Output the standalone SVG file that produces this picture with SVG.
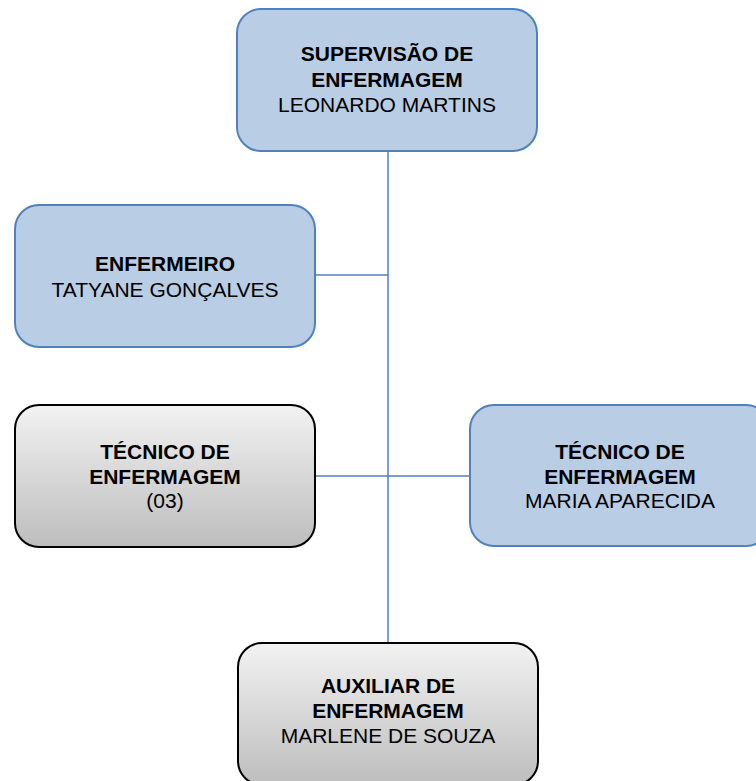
<svg xmlns="http://www.w3.org/2000/svg" width="756" height="781" viewBox="0 0 756 781">
  <defs>
    <linearGradient id="grayGrad" x1="0" y1="0" x2="0" y2="1">
      <stop offset="0" stop-color="#f2f2f2"/>
      <stop offset="1" stop-color="#bdbdbd"/>
    </linearGradient>
    <style>
      .blue { fill: #b9cde5; stroke: #4f81bd; stroke-width: 2; }
      .gray { fill: url(#grayGrad); stroke: #000000; stroke-width: 2; }
      .conn { stroke: #4f81bd; stroke-width: 1.5; fill: none; }
      text { font-family: "Liberation Sans", Arial, sans-serif; font-size: 21px; fill: #000000; text-anchor: middle; }
      .b { font-weight: bold; }
    </style>
  </defs>
  <rect width="756" height="781" fill="#ffffff"/>

  <g id="connectors">
    <line class="conn" x1="388" y1="151" x2="388" y2="643"/>
    <line class="conn" x1="315" y1="275" x2="388" y2="275"/>
    <line class="conn" x1="315" y1="476" x2="470" y2="476"/>
  </g>

  <g id="supervisao">
    <rect class="blue" x="237" y="9" width="300" height="142" rx="24" ry="24"/>
    <text class="b" x="387" y="61">SUPERVISÃO DE</text>
    <text class="b" x="387" y="86.5">ENFERMAGEM</text>
    <text x="387" y="111.5">LEONARDO MARTINS</text>
  </g>

  <g id="enfermeiro">
    <rect class="blue" x="15" y="205" width="300" height="142" rx="24" ry="24"/>
    <text class="b" x="165" y="271">ENFERMEIRO</text>
    <text x="165" y="296.5">TATYANE GONÇALVES</text>
  </g>

  <g id="tecnico-03">
    <rect class="gray" x="15" y="405" width="300" height="142" rx="24" ry="24"/>
    <text class="b" x="165" y="459">TÉCNICO DE</text>
    <text class="b" x="165" y="483.5">ENFERMAGEM</text>
    <text x="165" y="508">(03)</text>
  </g>

  <g id="tecnico-maria">
    <rect class="blue" x="470" y="405" width="300" height="141" rx="24" ry="24"/>
    <text class="b" x="620" y="458.5">TÉCNICO DE</text>
    <text class="b" x="620" y="483.5">ENFERMAGEM</text>
    <text x="620" y="508">MARIA APARECIDA</text>
  </g>

  <g id="auxiliar">
    <rect class="gray" x="238" y="643" width="300" height="142" rx="24" ry="24"/>
    <text class="b" x="388" y="693">AUXILIAR DE</text>
    <text class="b" x="388" y="718">ENFERMAGEM</text>
    <text x="388" y="743">MARLENE DE SOUZA</text>
  </g>
</svg>
